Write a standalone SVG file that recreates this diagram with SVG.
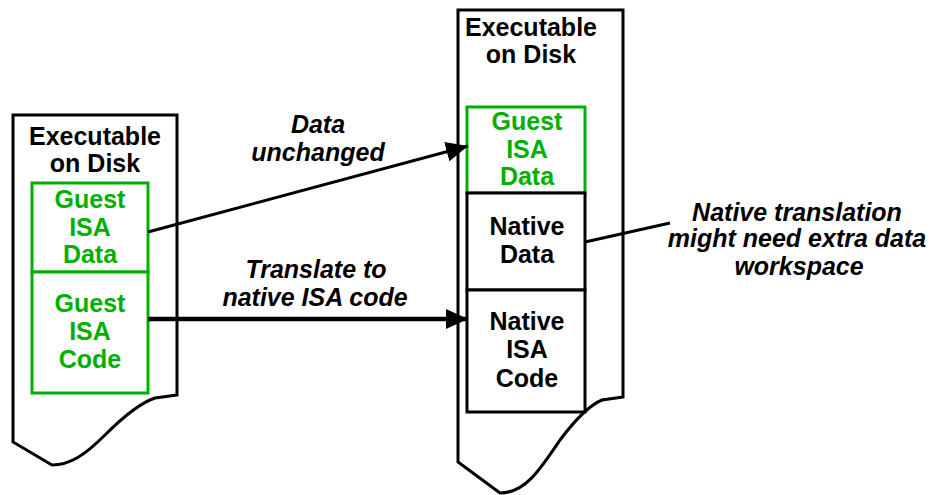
<svg xmlns="http://www.w3.org/2000/svg" width="937" height="495" viewBox="0 0 937 495">
<style>
text{font-family:"Liberation Sans",Arial,sans-serif;font-weight:bold;font-size:25px;text-anchor:middle}
.g{fill:#00B000}
.k{fill:#000}
.i{font-style:italic}
.page{fill:#fff;stroke:#000;stroke-width:3;stroke-linejoin:miter}
.gb{fill:#fff;stroke:#00B000;stroke-width:3}
.kb{fill:#fff;stroke:#000;stroke-width:3}
.ln{fill:none;stroke:#000}
</style>
<defs>
<marker id="ah" markerUnits="userSpaceOnUse" markerWidth="24" markerHeight="22" refX="22" refY="10" orient="auto">
<path d="M0,0 L22,10 L0,20 Z" fill="#000"/>
</marker>
</defs>
<g id="left-page">
<path class="page" d="M177,395 L155,398 C140,403 125,415 105,435 C85,455 70,465 52,465 L13,442 L13,115 L177,115 Z"/>
<text x="95" y="145">Executable</text>
<text x="95" y="172">on Disk</text>
</g>
<g id="left-guest-data">
<rect class="gb" x="32" y="183" width="116" height="89"/>
<text class="g" x="90" y="208">Guest</text>
<text class="g" x="90" y="236">ISA</text>
<text class="g" x="90" y="263">Data</text>
</g>
<g id="left-guest-code">
<rect class="gb" x="32" y="272" width="116" height="121"/>
<text class="g" x="90" y="312">Guest</text>
<text class="g" x="90" y="340">ISA</text>
<text class="g" x="90" y="368">Code</text>
</g>
<g id="right-page">
<path class="page" d="M623,397 L602,400 C590,405 575,420 560,440 C540,470 525,493 500,493 L458,462 L458,10 L623,10 Z"/>
<text x="531" y="36">Executable</text>
<text x="531" y="63">on Disk</text>
</g>
<g id="right-guest-data">
<rect class="gb" x="467" y="107" width="118" height="86"/>
<text class="g" x="527" y="130">Guest</text>
<text class="g" x="527" y="158">ISA</text>
<text class="g" x="527" y="185">Data</text>
</g>
<g id="right-native-data">
<rect class="kb" x="467" y="193" width="118" height="97"/>
<text class="k" x="527" y="235">Native</text>
<text class="k" x="527" y="263">Data</text>
</g>
<g id="right-native-code">
<rect class="kb" x="467" y="290" width="118" height="122"/>
<text class="k" x="527" y="330">Native</text>
<text class="k" x="527" y="358">ISA</text>
<text class="k" x="527" y="387">Code</text>
</g>
<g id="connectors">
<line class="ln" x1="148" y1="232" x2="468" y2="146" stroke-width="3" marker-end="url(#ah)"/>
<line class="ln" x1="148" y1="319" x2="468" y2="319" stroke-width="4.5" marker-end="url(#ah)"/>
<line class="ln" x1="585" y1="242" x2="670" y2="223" stroke-width="3"/>
</g>
<g id="labels">
<text class="i" x="318" y="133">Data</text>
<text class="i" x="318" y="161">unchanged</text>
<text class="i" x="316" y="278">Translate to</text>
<text class="i" x="315" y="306">native ISA code</text>
<text class="i" x="797" y="221">Native translation</text>
<text class="i" x="797" y="247">might need extra data</text>
<text class="i" x="799" y="275">workspace</text>
</g>
</svg>
